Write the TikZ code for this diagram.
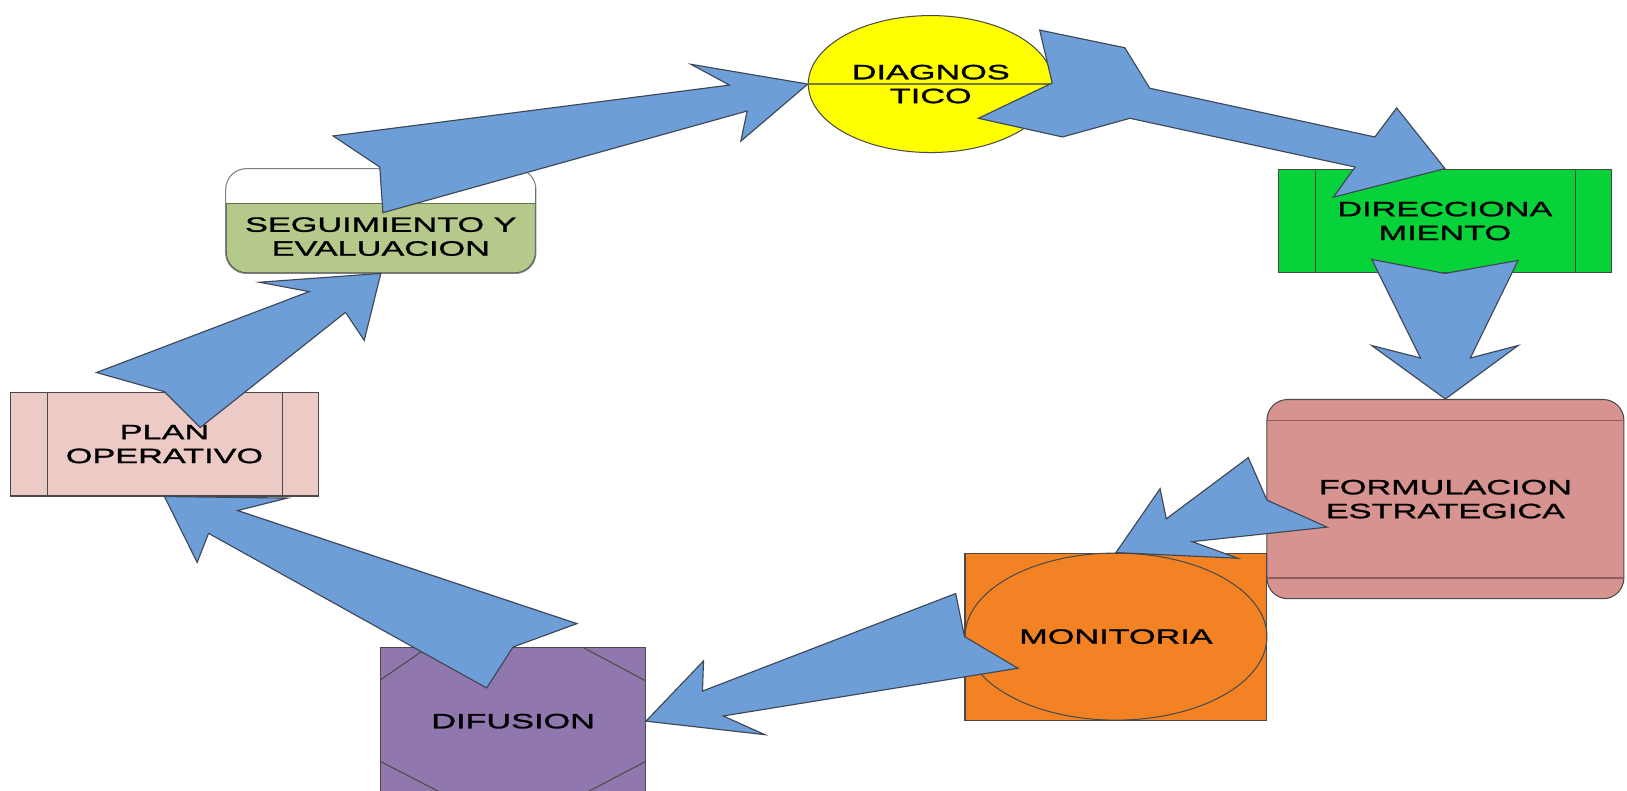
\documentclass[tikz,border=0pt]{standalone}
\usepackage{fontspec}
\setmainfont{Liberation Sans}
\newfontfamily\widefont[FakeStretch=1.65,FakeBold=1.3]{Liberation Sans}
\usetikzlibrary{shapes.geometric}
\definecolor{arrowblue}{HTML}{6E9ED8}
\definecolor{arrowedge}{HTML}{3E4756}
\definecolor{edgegray}{HTML}{4A4A4A}
\definecolor{diagY}{HTML}{FFFF00}
\definecolor{diagLine}{HTML}{7A7A30}
\definecolor{dirG}{HTML}{08D23A}
\definecolor{formR}{HTML}{D6938F}
\definecolor{formLine}{HTML}{8E5E5B}
\definecolor{monO}{HTML}{F28224}
\definecolor{difP}{HTML}{9077AD}
\definecolor{planP}{HTML}{ECCBC6}
\definecolor{segG}{HTML}{B5C98A}
\definecolor{segLine}{HTML}{66704F}
\begin{document}
\begin{tikzpicture}[x=0.5pt,y=-0.5pt,
  lbl/.style={font=\widefont\fontsize{10}{11.5}\selectfont, align=center, text=black, inner sep=0pt},
  boxshape/.style={draw=edgegray, line width=0.5pt, inner sep=0pt},
  thinline/.style={draw=edgegray, line width=0.5pt},
  bigarrow/.style={fill=arrowblue, draw=arrowedge, line width=0.55pt, line join=miter}]
\clip (0,0) rectangle (1568,762);
\fill[white] (0,0) rectangle (1568,762);

% DIAGNOSTICO
\node[boxshape, ellipse, fill=diagY, minimum width=118pt, minimum height=66pt, lbl] (diag) at (897,81) {DIAGNOS\\TICO};
\draw[diagLine, line width=0.6pt] (diag.west) -- (diag.east);

% DIRECCIONAMIENTO
\node[boxshape, rectangle, fill=dirG, minimum width=160.5pt, minimum height=50pt, lbl] (dir) at (1392.5,213) {DIRECCIONA\\MIENTO};
\draw[thinline] (1268,163) -- (1268,263);
\draw[thinline] (1518,163) -- (1518,263);

% FORMULACION ESTRATEGICA
\node[boxshape, rectangle, rounded corners=10pt, fill=formR, minimum width=172pt, minimum height=96pt, lbl] (form) at (1393,481) {FORMULACION\\ESTRATEGICA};
\draw[formLine, line width=0.6pt] (1221,405) -- (1565,405);
\draw[formLine, line width=0.6pt] (1221,557) -- (1565,557);

% MONITORIA
\node[boxshape, rectangle, fill=monO, minimum width=145.5pt, minimum height=80.5pt, lbl] (mon) at (1075.5,613.5) {MONITORIA};
\draw[thinline] (mon.center) ellipse [x radius=72.75pt, y radius=40.25pt];

% DIFUSION
\node[boxshape, rectangle, fill=difP, minimum width=127.5pt, minimum height=71pt, lbl] (dif) at (494.5,695) {DIFUSION};
\draw[thinline] (367,655) -- (412,624);
\draw[thinline] (562,624) -- (622,656);
\draw[thinline] (367,734) -- (431,767);
\draw[thinline] (622,734) -- (559,767);

% PLAN OPERATIVO
\node[boxshape, rectangle, fill=planP, minimum width=148.5pt, minimum height=50pt, lbl] (plan) at (158.5,428) {PLAN\\OPERATIVO};
\draw[thinline] (46,378) -- (46,478);
\draw[thinline] (272,378) -- (272,478);

% SEGUIMIENTO Y EVALUACION
\node[boxshape, rectangle, rounded corners=10pt, fill=segG, minimum width=149pt, minimum height=50pt] (seg) at (367,213) {};
\begin{scope}
  \clip[rounded corners=10pt] (seg.north west) rectangle (seg.south east);
  \fill[white] (218,163) rectangle (516,196);
\end{scope}
\draw[segLine, line width=0.6pt] (218,196) -- (516,196);
\draw[draw=edgegray!70, line width=0.5pt, rounded corners=10pt] (seg.north west) rectangle (seg.south east);
\node[lbl] (segtxt) at (367,228) {SEGUIMIENTO Y\\EVALUACION};

% ARROWS
% seguimiento -> diagnostico
\draw[bigarrow] (321,131) -- (703,82) -- (666,62) -- (diag.west) -- (714,136) -- (720,107) -- (369,205) -- (366,161) -- cycle;
% diagnostico -> direccionamiento
\draw[bigarrow] (1014,80) -- (1002,29) -- (1084,46) -- (1108,85) -- (1325,132) -- (1346,104) -- (dir.north) -- (1285,190) -- (1306,161) -- (1089,114) -- (1024,132) -- (943,114) -- cycle;
% direccionamiento -> formulacion
\draw[bigarrow] (1322,250) -- (dir.south) -- (1463,251) -- (1417,345) -- (1463,333) -- (form.north) -- (1322,333) -- (1369,345) -- cycle;
% formulacion -> monitoria
\draw[bigarrow] (1203,441) -- (1221,482) -- (1279,508) -- (1149,522) -- (1193,538) -- (mon.north) -- (1118,471) -- (1124,500) -- cycle;
% monitoria -> difusion
\draw[bigarrow] (921,572) -- (mon.west) -- (981,644) -- (697,690) -- (737,708) -- (dif.east) -- (678,637) -- (677,666) -- cycle;
% difusion -> plan operativo
\draw[bigarrow] (plan.south) -- (277,480) -- (229,492) -- (556,601) -- (dif.north) -- (469,663) -- (201,514) -- (190,542) -- cycle;
% plan operativo -> seguimiento
\draw[bigarrow] (seg.south) -- (351,328) -- (333,301) -- (193,412) -- (plan.north) -- (93,359) -- (298,281) -- (250,272) -- cycle;
\end{tikzpicture}
\end{document}
